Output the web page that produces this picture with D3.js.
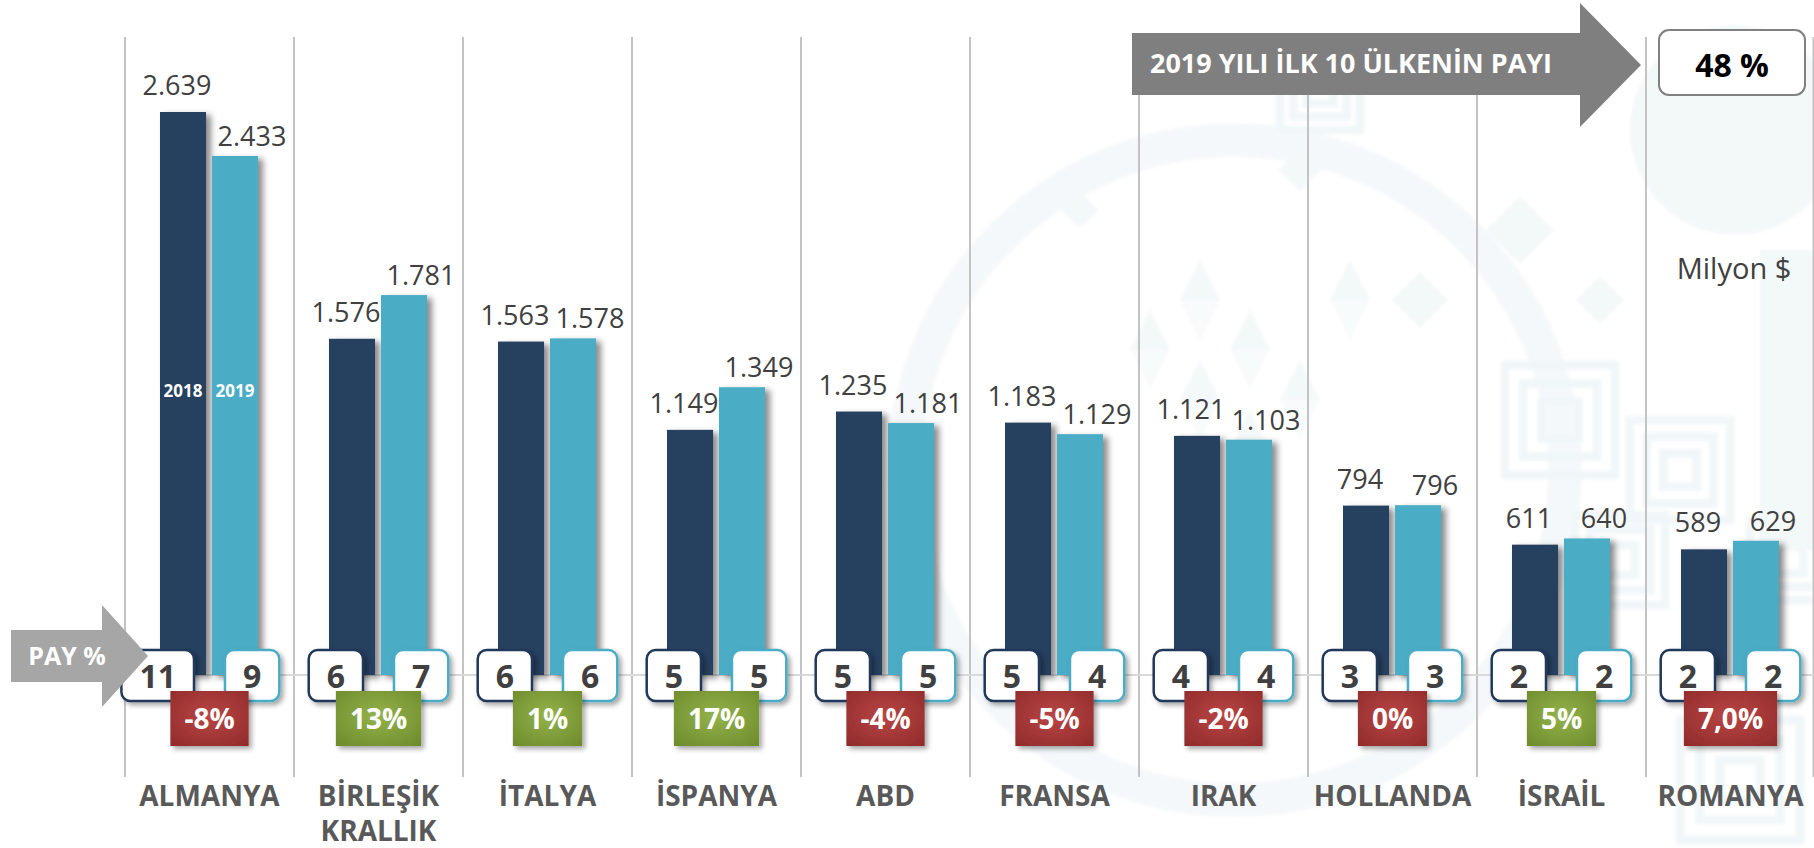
<!DOCTYPE html>
<html lang="tr">
<head>
<meta charset="utf-8">
<script src="https://cdn.jsdelivr.net/npm/d3@7/dist/d3.min.js"></script>
<style>
  html, body { margin: 0; padding: 0; background: #ffffff; }
  svg { display: block; font-family: "Open Sans", "Noto Sans", sans-serif; }
</style>
</head>
<body>
<svg id="chart" width="1814" height="848"></svg>
<script>
// Ülkeler (kategori etiketleri, satırlara bölünmüş)
const countries = ["ALMANYA", "BİRLEŞİK KRALLIK", "İTALYA", "İSPANYA", "ABD", "FRANSA", "IRAK", "HOLLANDA", "İSRAİL", "ROMANYA"];
const countryLines = [["ALMANYA"], ["BİRLEŞİK", "KRALLIK"], ["İTALYA"], ["İSPANYA"], ["ABD"], ["FRANSA"], ["IRAK"], ["HOLLANDA"], ["İSRAİL"], ["ROMANYA"]];
const seriesNames = ["2018", "2019"];

// Değerler, milyon $
const values2018 = [2639, 1576, 1563, 1149, 1235, 1183, 1121, 794, 611, 589];
const values2019 = [2433, 1781, 1578, 1349, 1181, 1129, 1103, 796, 640, 629];

// Toplam içindeki pay (%)
const share2018 = [11, 6, 6, 5, 5, 5, 4, 3, 2, 2];
const share2019 = [9, 7, 6, 5, 5, 4, 4, 3, 2, 2];

// Değişim etiketleri ve kutu rengi (yeşil = artış)
const changeLabels = ["-8%", "13%", "1%", "17%", "-4%", "-5%", "-2%", "0%", "5%", "7,0%"];
const changeUp = [false, true, true, true, false, false, false, false, true, false];

const top10Title = "2019 YILI İLK 10 ÜLKENİN PAYI";
const top10Share = "48 %";
const unitLabel = "Milyon $";
const shareTitle = "PAY %";

const svg = d3.select("#chart");
const W = 1814, H = 848;

const colors = { "2018": "#263f60", "2019": "#4bacc6" };
const boxStroke = { "2018": "#22395a", "2019": "#4bacc6" };

const trNum = d3.formatLocale({ decimal: ",", thousands: ".", grouping: [3], currency: ["", ""] }).format(",d");

// Ölçekler
const x0 = d3.scaleBand().domain(countries).range([125, 1815]).paddingInner(0).paddingOuter(0);
const x1 = d3.scaleBand().domain(seriesNames).range([35, 133]).paddingInner(0.115);
const y = d3.scaleLinear().domain([0, 3000]).range([675, 35]);

const rows = countries.map((c, i) => ({
  country: c, lines: countryLines[i],
  vals: { "2018": values2018[i], "2019": values2019[i] },
  share: { "2018": share2018[i], "2019": share2019[i] },
  change: changeLabels[i], up: changeUp[i]
}));

// Filtreler ve degradeler
const defs = svg.append("defs");
const shadow = defs.append("filter").attr("id", "shadow").attr("x", "-20%").attr("y", "-20%").attr("width", "160%").attr("height", "160%");
shadow.append("feDropShadow").attr("dx", 5).attr("dy", 3).attr("stdDeviation", 3).attr("flood-color", "#000").attr("flood-opacity", 0.45);
const shadowSoft = defs.append("filter").attr("id", "shadowSoft").attr("x", "-20%").attr("y", "-20%").attr("width", "150%").attr("height", "160%");
shadowSoft.append("feDropShadow").attr("dx", 3).attr("dy", 3).attr("stdDeviation", 2.5).attr("flood-color", "#000").attr("flood-opacity", 0.35);
const haze = defs.append("filter").attr("id", "haze");
haze.append("feGaussianBlur").attr("stdDeviation", 1.5);

function radial(id, inner, outer) {
  const g = defs.append("radialGradient").attr("id", id).attr("cx", "50%").attr("cy", "45%").attr("r", "70%");
  g.append("stop").attr("offset", "0%").attr("stop-color", inner);
  g.append("stop").attr("offset", "100%").attr("stop-color", outer);
}
radial("gradUp", "#93b34b", "#6f8c2d");
radial("gradDown", "#b94545", "#922c2c");

// Arka plan motifleri (soluk)
const bg = svg.append("g").attr("fill", "#e6f0f3").attr("stroke", "none").attr("opacity", 0.45).attr("filter", "url(#haze)");
bg.append("circle").attr("cx", 1235).attr("cy", 470).attr("r", 330).attr("fill", "none").attr("stroke", "#e8f1f4").attr("stroke-width", 34);
bg.append("circle").attr("cx", 1735).attr("cy", 130).attr("r", 105);
[[1520, 230, 48], [1420, 300, 40], [1600, 300, 34], [1300, 170, 30], [1080, 210, 26]].forEach(([cx, cy, s]) => {
  bg.append("rect").attr("x", cx - s / 2).attr("y", cy - s / 2).attr("width", s).attr("height", s)
    .attr("transform", `rotate(45 ${cx} ${cy})`);
});
[[1180, 300], [1230, 350], [1180, 400], [1280, 400], [1230, 450], [1330, 300], [1130, 350]].forEach(([tx, ty]) => {
  bg.append("path").attr("d", `M${tx},${ty} l40,0 l-20,-40 z`);
  bg.append("path").attr("d", `M${tx},${ty} l40,0 l-20,40 z`).attr("opacity", 0.6);
});
function keyPattern(cx, cy, s) {
  const k = bg.append("g").attr("fill", "none").attr("stroke", "#e1edf1").attr("stroke-width", 9);
  for (let i = 0; i < 3; i++) {
    const r = s - i * s / 3;
    k.append("rect").attr("x", cx - r).attr("y", cy - r).attr("width", 2 * r).attr("height", 2 * r);
  }
}
keyPattern(1560, 420, 55); keyPattern(1680, 470, 50); keyPattern(1620, 560, 45);
keyPattern(1740, 780, 60); keyPattern(1320, 90, 40); keyPattern(1790, 560, 40);
bg.append("rect").attr("x", 1760).attr("y", 250).attr("width", 60).attr("height", 300);

// Dikey ayraçlar
const grid = svg.append("g");
const bounds = countries.map(c => x0(c)).concat([x0.range()[1] - 1.5]);
grid.selectAll("line").data(bounds).join("line")
  .attr("x1", d => d).attr("x2", d => d)
  .attr("y1", 37).attr("y2", 777)
  .attr("stroke", "#c3c3c3").attr("stroke-width", 2);

// Yatay taban çizgisi
svg.append("line")
  .attr("x1", x0.range()[0]).attr("x2", W)
  .attr("y1", y(0)).attr("y2", y(0))
  .attr("stroke", "#d9d9d9").attr("stroke-width", 2);

// Sütunlar
const groups = svg.append("g").selectAll("g").data(rows).join("g")
  .attr("transform", d => `translate(${x0(d.country)},0)`);

groups.selectAll("rect.bar").data(d => seriesNames.map(s => ({ s, v: d.vals[s] }))).join("rect")
  .attr("class", "bar")
  .attr("x", d => x1(d.s))
  .attr("y", d => y(d.v))
  .attr("width", x1.bandwidth())
  .attr("height", d => y(0) - y(d.v))
  .attr("fill", d => colors[d.s])
  .attr("filter", "url(#shadow)");

// Değer etiketleri
groups.selectAll("text.val").data(d => seriesNames.map(s => ({ s, v: d.vals[s] }))).join("text")
  .attr("class", "val")
  .attr("x", d => x1(d.s) + x1.bandwidth() / 2 + (d.s === "2018" ? -6 : 17))
  .attr("y", d => y(d.v) - (d.s === "2018" ? 17 : 10))
  .attr("text-anchor", "middle")
  .attr("font-size", 27)
  .attr("fill", "#404040")
  .text(d => trNum(d.v));

// İlk gruptaki yıl etiketleri
const firstGroup = groups.filter((d, i) => i === 0);
firstGroup.selectAll("text.yr").data(seriesNames).join("text")
  .attr("class", "yr")
  .attr("x", s => x1(s) + x1.bandwidth() / 2)
  .attr("y", 397)
  .attr("text-anchor", "middle")
  .attr("font-size", 17).attr("font-weight", 700)
  .attr("fill", "#ffffff")
  .text(s => s);

// Pay kutuları
groups.each(function (d) {
  const g = d3.select(this);
  seriesNames.forEach(s => {
    const bg2 = g.append("g").attr("filter", "url(#shadowSoft)");
    const rect = bg2.append("rect");
    const t = g.append("text")
      .attr("y", 688)
      .attr("text-anchor", "middle")
      .attr("font-size", 32).attr("font-weight", 700)
      .attr("fill", "#404040")
      .text(d.share[s]);
    const w = t.node().getComputedTextLength() + 36;
    const xLeft = s === "2018" ? x1(s) + 34 - w : x1(s) + 13;
    rect.attr("x", xLeft).attr("y", 650).attr("width", w).attr("height", 51).attr("rx", 9)
      .attr("fill", "#ffffff").attr("stroke", boxStroke[s]).attr("stroke-width", 2.5);
    t.attr("x", xLeft + w / 2);
  });
});

// Değişim kutuları
groups.each(function (d) {
  const g = d3.select(this);
  const cx = x0.bandwidth() / 2;
  const rect = g.append("rect");
  const t = g.append("text")
    .attr("x", cx).attr("y", 729)
    .attr("text-anchor", "middle")
    .attr("font-size", 28).attr("font-weight", 700)
    .attr("fill", "#ffffff")
    .text(d.change);
  const w = t.node().getComputedTextLength() + 28;
  rect.attr("x", cx - w / 2).attr("y", 691).attr("width", w).attr("height", 55)
    .attr("fill", d.up ? "url(#gradUp)" : "url(#gradDown)")
    .attr("filter", "url(#shadowSoft)");
});

// Kategori etiketleri
groups.append("text")
  .attr("x", x0.bandwidth() / 2)
  .attr("text-anchor", "middle")
  .attr("font-size", 28).attr("font-weight", 700)
  .attr("fill", "#595959")
  .selectAll("tspan").data(d => d.lines).join("tspan")
  .attr("x", x0.bandwidth() / 2)
  .attr("y", (l, i) => 806 + i * 35)
  .text(l => l);

// Üst ok: ilk 10 ülkenin payı
svg.append("path")
  .attr("d", "M1132,33 L1580,33 L1580,3 L1641,65 L1580,127 L1580,95 L1132,95 Z")
  .attr("fill", "#7f7f7f");
svg.append("text")
  .attr("x", 1150).attr("y", 73)
  .attr("font-size", 26).attr("font-weight", 700)
  .attr("fill", "#ffffff")
  .attr("textLength", 402).attr("lengthAdjust", "spacingAndGlyphs")
  .text(top10Title);

svg.append("rect")
  .attr("x", 1659).attr("y", 30).attr("width", 146).attr("height", 65).attr("rx", 10)
  .attr("fill", "#ffffff").attr("stroke", "#808080").attr("stroke-width", 2);
svg.append("text")
  .attr("x", 1732).attr("y", 77)
  .attr("text-anchor", "middle")
  .attr("font-size", 32).attr("font-weight", 700)
  .attr("fill", "#000000")
  .text(top10Share);

svg.append("text")
  .attr("x", 1734).attr("y", 279)
  .attr("text-anchor", "middle")
  .attr("font-size", 29)
  .attr("fill", "#404040")
  .text(unitLabel);

// Sol ok: PAY %
svg.append("path")
  .attr("d", "M11,630 L102,630 L102,605 L148,656 L102,707 L102,682 L11,682 Z")
  .attr("fill", "#a6a6a6");
svg.append("text")
  .attr("x", 67).attr("y", 665)
  .attr("text-anchor", "middle")
  .attr("font-size", 25).attr("font-weight", 700)
  .attr("fill", "#ffffff")
  .text(shareTitle);
</script>
</body>
</html>
